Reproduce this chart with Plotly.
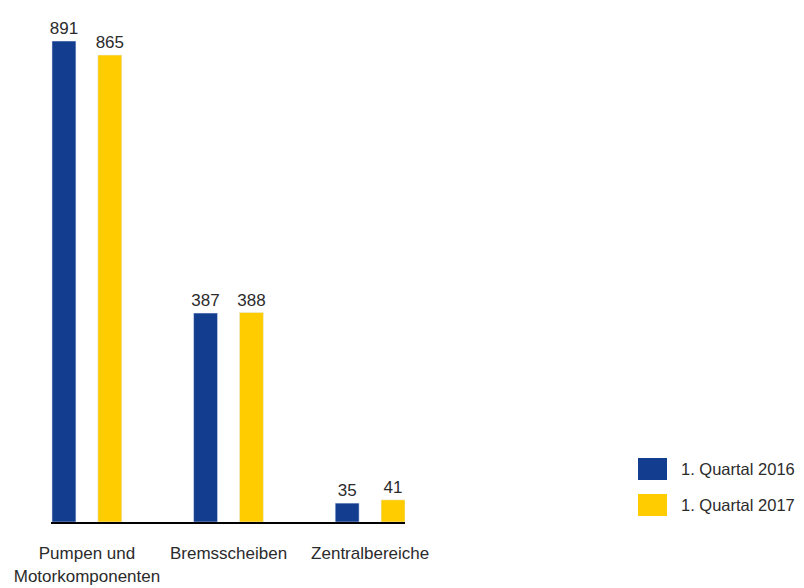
import plotly.graph_objects as go

categories = ["Pumpen und<br>Motorkomponenten", "Bremsscheiben", "Zentralbereiche"]
q2016 = [891, 387, 35]
q2017 = [865, 388, 41]
series_names = ["1. Quartal 2016", "1. Quartal 2017"]

BLUE = "#133E8F"
YELLOW = "#FFCC00"
TXT = "#2b2b2b"
FONT = "Liberation Sans, Arial, sans-serif"

fig = go.Figure()
for vals, col, name, off in [(q2016, BLUE, series_names[0], -0.247),
                             (q2017, YELLOW, series_names[1], 0.077)]:
    fig.add_trace(go.Bar(x=categories, y=vals, name=name, marker_color=col,
                         width=0.169, offset=off, text=vals, textposition="outside",
                         constraintext="none",
                         textfont=dict(size=17, color=TXT, family=FONT), cliponaxis=False,
                         showlegend=False))

# legend drawn manually (large swatches); coordinates relative to plot area
W = 354.0
H = 502.0
def px(x):
    return (x - 51) / W
def py(y):
    return (522 - y) / H

for i, (col, name) in enumerate(zip([BLUE, YELLOW], series_names)):
    top = [458, 494][i]
    bot = [480, 516][i]
    fig.add_shape(type="rect", xref="paper", yref="paper",
                  x0=px(638), x1=px(667), y0=py(bot), y1=py(top),
                  fillcolor=col, line=dict(width=0))
    fig.add_annotation(xref="paper", yref="paper", x=px(679), y=py((top + bot) / 2),
                       text=name, showarrow=False, xanchor="left", yanchor="middle",
                       font=dict(size=16.5, color=TXT, family=FONT))

fig.update_layout(
    width=804, height=588,
    margin=dict(l=51, r=399, t=20, b=66),
    paper_bgcolor="white", plot_bgcolor="white",
    barmode="overlay",
    font=dict(family=FONT, size=17, color=TXT),
    xaxis=dict(range=[-0.254, 2.246], showline=True, linecolor="black", linewidth=2,
               ticks="", showgrid=False, zeroline=False, ticklabelstandoff=15,
               automargin=False,
               tickfont=dict(size=17, color=TXT, family=FONT)),
    yaxis=dict(range=[0, 930], visible=False, showgrid=False, zeroline=False),
)

fig.write_html("out.html", config={"displayModeBar": False},
               post_script="document.body.style.margin='0';document.body.style.overflow='hidden';")
